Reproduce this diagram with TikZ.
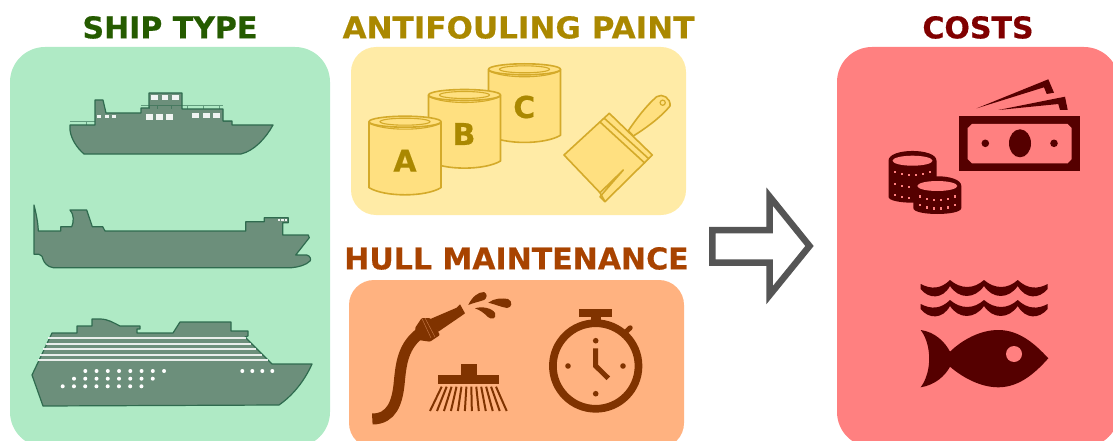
\documentclass[tikz,border=0pt]{standalone}
\usepackage{fontspec}
\setmainfont[BoldFont={DejaVu Sans Bold}, BoldFeatures={FakeBold=0.5}]{DejaVu Sans}
\usetikzlibrary{positioning}
\definecolor{shipgreen}{HTML}{AFEAC5}
\definecolor{shiptitle}{HTML}{255B00}
\definecolor{shipbody}{HTML}{6C8F7B}
\definecolor{shipline}{HTML}{2F6B4F}
\definecolor{paintback}{HTML}{FFEBA6}
\definecolor{painttitle}{HTML}{AA8800}
\definecolor{paintfill}{HTML}{FFE080}
\definecolor{paintline}{HTML}{D4AA2A}
\definecolor{hullback}{HTML}{FFB280}
\definecolor{hulltitle}{HTML}{A84300}
\definecolor{hullicon}{HTML}{803300}
\definecolor{costback}{HTML}{FF8080}
\definecolor{costtitle}{HTML}{800000}
\definecolor{costicon}{HTML}{550000}
\definecolor{arrowgrey}{HTML}{555555}
\tikzset{
  panel/.style ={rectangle, minimum width=#1, inner sep=0pt, outer sep=0pt},
  heading/.style={font=\bfseries\fontsize{30}{30}\selectfont, inner sep=0pt},
  canlabel/.style={font=\bfseries\fontsize{30}{30}\selectfont, text=painttitle, inner sep=0pt},
  hull/.style  ={draw=shipline, fill=shipbody, line width=1.2pt, line join=round},
  rail/.style  ={draw=shipline, opacity=0.6, line width=0.6pt},
  pane/.style  ={fill=white, opacity=0.9},
  stripe/.style={draw=white, opacity=0.85, line width=2pt},
  paintlook/.style={draw=paintline, fill=paintfill, line width=1.6pt, line join=round},
  paintcan/.pic={
    \path[paintlook] (-36,0) -- (-36,66) .. controls (-20,75.5) and (20,75.5) .. (36,66) -- (36,0) -- cycle;
    \path[paintlook] (0,0) ellipse [x radius=36, y radius=5.5];
    \path[draw=paintline, line width=1.1pt] (0,0) ellipse [x radius=25, y radius=3.5];
    \path[draw=paintline, line width=1.1pt] (-36,1.5) .. controls (-20,9.5) and (20,9.5) .. (36,1.5);
  },
  coinstack/.pic={
    \fill[costicon] (-24,0) .. controls (-24,-13) and (24,-13) .. (24,0) -- (24,#1-6) .. controls (24,#1+2) and (-24,#1+2) .. (-24,#1-6) -- cycle;
    \fill[costback] (0,0) ellipse [x radius=20, y radius=5];
  },
  coindots/.pic={
    \foreach \dx in {-17.5,-10.5,-3.5,3.5,10.5,17.5} {
      \pgfmathsetmacro{\yy}{#1+3.5*(1-(\dx/18)*(\dx/18))-2}
      \fill[costback] ({\dx-1.3},{\yy-1.3}) rectangle ++(2.6,2.6);
    }
  },
  wavebar/.pic={
    \fill[costicon] (0,4) .. controls (10,9.3) and (20,9.3) .. (29.3,0) .. controls (40,9.3) and (53,9.3) .. (63.3,0)
      .. controls (74,9.3) and (87,9.3) .. (97,0) .. controls (107,9.3) and (117,9.3) .. (127,4) -- (127,9)
      .. controls (118,19.3) and (105,19.3) .. (97,6) .. controls (88,19.3) and (72,19.3) .. (63.3,6)
      .. controls (54,19.3) and (38,19.3) .. (29.3,6) .. controls (22,19.3) and (8,19.3) .. (0,9) -- cycle;
  },
  droplet/.style={fill=hullicon}
}
\begin{document}
\begin{tikzpicture}[x=1pt, y=-1pt]
    \clip (0,0) rectangle (1113,441);
    \node[panel=320pt, minimum height=400pt, fill=shipgreen, rounded corners=35pt] (shipbox) at (170,247) {};
    \node[panel=335pt, minimum height=168pt, fill=paintback, rounded corners=25pt] (paintbox) at (518.5,131) {};
    \node[panel=335pt, minimum height=168pt, fill=hullback, rounded corners=25pt] (maintbox) at (516.5,364) {};
    \node[panel=282pt, minimum height=400pt, fill=costback, rounded corners=35pt] (costbox) at (978,247) {};
    \node[heading, text=shiptitle, above=8pt of shipbox] (shiphead) {SHIP TYPE};
    \node[heading, text=painttitle, xscale=1.035, above=8pt of paintbox] (painthead) {ANTIFOULING PAINT};
    \node[heading, text=hulltitle, above=10pt of maintbox] (maintmhead) {HULL MAINTENANCE};
    \node[heading, text=costtitle, above=8pt of costbox] (costhead) {COSTS};

    \path[hull] (70,125) -- (70,130) .. controls (71,139) and (77,148) .. (84,154) -- (241,154)
      .. controls (254,151) and (266,138) .. (273,125) -- (232,125) -- (232,121) -- (223,121) -- (223,109)
      -- (182,109) -- (182,93) -- (149,93) -- (149,108) -- (141,108) -- (141,113) -- (106,113) -- (103,100)
      -- (95,100) -- (95,125) -- cycle;
    \draw[rail] (141,105) -- (223,105) (149,105) -- (149,109) (157,105) -- (157,109) (171,105) -- (171,109)
      (187,105) -- (187,109) (203,105) -- (203,109) (219,105) -- (219,109);
    \draw[rail] (70,121) -- (95,121) (86,121) -- (86,125) (223,121) -- (232,121);
    \foreach \px in {97,105,112} \fill[pane] (\px,115.5) rectangle ++(4,2.6);
    \foreach \px in {145.5,156,166} \fill[pane] (\px,114.5) rectangle ++(7,5.5);
    \foreach \px in {192,202.5,213} \fill[pane] (\px,113) rectangle ++(7,5.5);
    \foreach \px in {151,161.5,172} \fill[pane] (\px,95.5) rectangle ++(6.5,5);

    \path[hull] (34,205) .. controls (36,213) and (38,222) .. (38.3,231) -- (60.7,231) -- (60.7,226.7) -- (71.7,226.7)
      .. controls (74,222) and (74,214) .. (70,210) -- (86.7,210) -- (92.3,226.7) -- (102.7,226.7) -- (105,231)
      -- (245.7,231) -- (245.7,221.7) -- (264.3,221.7) -- (264.3,217.7) -- (288.3,217.7) -- (288.3,222.7)
      -- (282.7,222.7) -- (282.7,235) -- (308.3,235) -- (309.3,237.7) -- (295.7,255) -- (306.7,255)
      .. controls (311,256) and (311,260) .. (310,261) .. controls (306,265) and (299,267) .. (291.7,267.7)
      -- (53.3,267.7) .. controls (47,267) and (44,262) .. (43.3,260) .. controls (42.5,257) and (42,255) .. (39,254.3)
      -- (34,254.3) -- cycle;
    \foreach \px in {277.5,281,284.5} \fill[pane] (\px,219.3) rectangle ++(2.7,2);

    \path[hull] (52,333) -- (77,333) -- (77,326) -- (92,326) -- (92,319) -- (100,319)
      .. controls (108,319) and (114,323) .. (120,326) -- (140,326) -- (140,329) -- (137,329) -- (137,333)
      -- (173,333) -- (180,322) -- (231,322) -- (231,331) -- (248,331) -- (248,336) -- (245,337) -- (272,364)
      -- (312,364) .. controls (304,382) and (292,396) .. (279,405) -- (43,406) -- (32,375) -- cycle;
    \draw[stripe] (48,338.3) -- (246,338.3) (46,344) -- (251,344) (43,349.3) -- (256,349.3)
      (40,354.7) -- (262,354.7) (38,360) -- (268,360);
    \foreach \n in {0,...,7} {
      \fill[white] (85.3+\n*11.25,371) circle (2);
      \fill[white] (74+\n*11.25,378.7) circle (2);
      \fill[white] (62.7+\n*11.25,386.3) circle (2);
    }
    \foreach \px in {242.3,252.3,262.3,272.3} \fill[white] (\px,371) circle (2);

    \pic at (524.5,69.3) {paintcan};
    \pic at (464.5,95) {paintcan};
    \pic at (405,121.7) {paintcan};
    \node[canlabel] (letterc) at (524.3,107) {C};
    \node[canlabel] (letterb) at (464,134) {B};
    \node[canlabel] (lettera) at (405,160.7) {A};
    \path[paintlook] (628.3,130.7) .. controls (637,118) and (646,106) .. (656.7,96.7)
      .. controls (662,93) and (671,98) .. (670,106) .. controls (660,118) and (646,128) .. (633.3,136) -- cycle;
    \path[draw=paintline, line width=1.2pt] (662.7,102.7) circle (2.6);
    \path[paintlook] (564,155) -- (609.3,113.3) -- (652.3,155) -- (605,201.7) -- (600,196.7) -- (623.3,170) -- (600,192.7) -- cycle;
    \draw[paintline, line width=1.6pt] (600,122) -- (645,163.3) (604,118) -- (649,159);
    \draw[paintline, line width=1.6pt] (600,192.7) -- (605,201.7);

    \draw[hullicon, line width=11pt, line cap=butt] (372.3,419) .. controls (392,419) and (397,402) .. (399,385)
      .. controls (401,365) and (402,345) .. (423,331);
    \fill[hullicon, rounded corners=1pt] (415,328) -- (421.7,318) -- (430,318) -- (440,335) -- (430,341.7) -- (418.3,340) -- cycle;
    \fill[hullicon] (428,320) -- (456.7,307.7) -- (460,304.3) -- (465,313.3) -- (461.7,315.7) -- (438.3,331.7) -- cycle;
    \draw[hullback, opacity=0.5, line width=0.5pt] (421.7,318) -- (431,338) (425,318) -- (435,337);
    \fill[droplet] (468.3,305) .. controls (472,297) and (478,292) .. (484,292) .. controls (488,294) and (487,298) .. (484,300) .. controls (478,302) and (473,303) .. (468.3,305) -- cycle;
    \fill[droplet] (488.3,302.7) .. controls (494,298) and (503,298) .. (508,299) .. controls (513,301) and (512,308) .. (507,308) .. controls (501,307) and (494,304) .. (488.3,302.7) -- cycle;
    \fill[droplet] (475,308.3) .. controls (482,306) and (492,308) .. (495,313) .. controls (497,319) and (491,320) .. (488,317) .. controls (484,313) and (480,310) .. (475,308.3) -- cycle;
    \fill[hullicon] (461,364.3) rectangle (476.7,375);
    \fill[hullicon] (438.3,375) rectangle (499,384);
    \foreach \n in {0,...,11}
      \draw[hullicon, line width=2pt] ({441.7+\n*54.3/11},386.7) -- ({430+\n*76.7/11},411);

    \draw[hullicon, line width=7.7pt] (595.7,366) circle (42.8);
    \fill[hullicon] (579,309) rectangle (612,316.7);
    \fill[hullicon] (590.7,316.7) rectangle (600.7,325);
    \draw[hullicon, line width=5pt, line cap=round] (625,332.7) -- (630.2,327.8);
    \draw[hullicon, line width=5pt, line join=miter] (595.7,348.3) -- (595.7,366) -- (608.3,378.3);
    \foreach \px/\py in {595.7/340.7, 568/366, 623/366, 595.7/393.7}
      \fill[hullicon] (\px,\py) circle (2.8);

    \path[draw=arrowgrey, fill=white, line width=6.5pt, line join=miter, miter limit=10] (712.3,230) -- (769.7,230)
      -- (769.7,196.7) -- (809.5,246) -- (769.7,295) -- (769.7,262.7) -- (712.3,262.7) -- cycle;

    \fill[costicon] (976.7,108.3) -- (1048.3,79.3) -- (1054,92.7) -- (1046.7,94) -- (1044,87.3) -- cycle;
    \fill[costicon] (998.3,110) -- (1065,96.7) -- (1067.7,110) -- (1060,110) -- (1058.3,104) -- cycle;
    \fill[costicon] (959.3,115.7) rectangle (1080,171);
    \fill[costback] (972,124) -- (1067.7,124) -- (1071.7,128) -- (1071.7,159) -- (1067.7,163.3) -- (972,163.3) -- (967.7,159)
      -- (967.7,128) -- cycle;
    \fill[costicon] (1020,143.3) ellipse [x radius=11, y radius=14];
    \fill[costicon] (985.3,143.3) circle (3.8);
    \fill[costicon] (1054,143.3) circle (3.8);

    \pic at (912.5,160.7) {coinstack=42};
    \pic at (912.5,160.7) {coindots=13};
    \pic at (912.5,160.7) {coindots=25};
    \pic at (912.5,160.7) {coindots=36};
    \pic at (937.3,186) {coinstack=28};
    \pic at (937.3,186) {coindots=12.5};
    \pic at (937.3,186) {coindots=21};

    \pic at (920.7,280) {wavebar};
    \pic at (920.7,300) {wavebar};
    \fill[costicon] (920.7,330) .. controls (935,332) and (945,342) .. (950,351.7) .. controls (962,340) and (980,330) .. (998.3,330)
      .. controls (1020,330) and (1036,345) .. (1048.3,358.3) .. controls (1036,372) and (1020,387.3) .. (998.3,387.3)
      .. controls (980,387.3) and (962,377) .. (950,366.7) .. controls (945,376) and (935,385) .. (920.7,387.3)
      .. controls (932,372) and (932,345) .. (920.7,330) -- cycle;
    \fill[costback] (1014,354) circle (8);
  \end{tikzpicture}
\end{document}
